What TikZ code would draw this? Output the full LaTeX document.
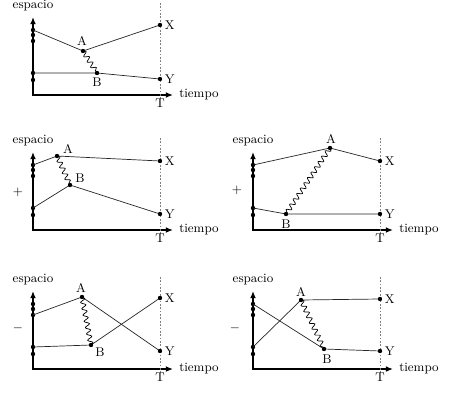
\documentclass[tikz,border=0pt]{standalone}
\usepackage{tikz}
\usetikzlibrary{arrows.meta, decorations.pathmorphing}

\begin{document}
\begin{tikzpicture}[x=0.25mm, y=0.25mm, font=\small,
    axis/.style={line width=1.1pt, {Latex[length=1.8mm,width=1.5mm]}-{Latex[length=1.8mm,width=1.5mm]}},
    track/.style={line width=0.5pt, black!85},
    wiggle/.style={line width=0.5pt, decorate, decoration={snake, amplitude=0.6mm, segment length=1.6mm}},
    timeT/.style={gray, line width=0.6pt, dash pattern=on 1.2pt off 1.2pt}]
    \useasboundingbox (0,0) rectangle (450,393);

    % the five space-time frames
    \foreach \ox/\oy in {33/298, 33/163, 253/163, 33/24, 253/24} {
        \begin{scope}[shift={(\ox,\oy)}]
            \draw[axis] (0,78) |- (140,0);
            \draw[timeT] (127,92) -- (127,-4);
            \foreach \y in {65, 60, 54, 22, 15}
                \fill (0,\y) circle(2.2);
            \node (esp) at (0,89) {espacio};
            \node[right, inner sep=1.5mm] (tmp) at (140,0) {tiempo};
            \node (tT) at (127,-8) {T};
        \end{scope}
    }

    % top
    \begin{scope}[shift={(33,298)}]
        \coordinate (a1) at (0,65);
        \coordinate (b1) at (0,22);
        \coordinate (A1) at (50,44);
        \coordinate (B1) at (64,22);
        \coordinate (X1) at (127,70);
        \coordinate (Y1) at (127,16);
        \draw[track] (a1) -- (A1) -- (X1);
        \draw[track] (b1) -- (B1) -- (Y1);
        \draw[wiggle] (A1) -- (B1);
        \foreach \p in {A1, B1, X1, Y1}
            \fill (\p) circle(2.2);
        \node (lA1) at (49,54) {A};
        \node (lB1) at (64,13) {B};
        \node[right] (lX1) at (X1) {X};
        \node[right] (lY1) at (Y1) {Y};
    \end{scope}

    % middle left
    \begin{scope}[shift={(33,163)}]
        \coordinate (a2) at (0,65);
        \coordinate (b2) at (0,22);
        \coordinate (A2) at (24,74);
        \coordinate (B2) at (37,45);
        \coordinate (X2) at (127,69);
        \coordinate (Y2) at (127,16);
        \draw[track] (a2) -- (A2) -- (X2);
        \draw[track] (b2) -- (B2) -- (Y2);
        \draw[wiggle] (A2) -- (B2);
        \foreach \p in {A2, B2, X2, Y2}
            \fill (\p) circle(2.2);
        \node (lA2) at (35,81) {A};
        \node (lB2) at (47,52) {B};
        \node[right] (lX2) at (X2) {X};
        \node[right] (lY2) at (Y2) {Y};
        \node (s2) at (-15,38) {+};
    \end{scope}

    % middle right
    \begin{scope}[shift={(253,163)}]
        \coordinate (a3) at (0,65);
        \coordinate (b3) at (0,22);
        \coordinate (A3) at (77,82);
        \coordinate (B3) at (33,16);
        \coordinate (X3) at (127,69);
        \coordinate (Y3) at (127,16);
        \draw[track] (a3) -- (A3) -- (X3);
        \draw[track] (b3) -- (B3) -- (Y3);
        \draw[wiggle] (A3) -- (B3);
        \foreach \p in {A3, B3, X3, Y3}
            \fill (\p) circle(2.2);
        \node (lA3) at (78,91) {A};
        \node (lB3) at (33,6) {B};
        \node[right] (lX3) at (X3) {X};
        \node[right] (lY3) at (Y3) {Y};
        \node (s3) at (-16,40) {+};
    \end{scope}

    % bottom left
    \begin{scope}[shift={(33,24)}]
        \coordinate (a4) at (0,54);
        \coordinate (b4) at (0,22);
        \coordinate (A4) at (49,72);
        \coordinate (B4) at (58,24);
        \coordinate (X4) at (127,71);
        \coordinate (Y4) at (127,18);
        \draw[track] (a4) -- (A4) -- (Y4);
        \draw[track] (b4) -- (B4) -- (X4);
        \draw[wiggle] (A4) -- (B4);
        \foreach \p in {A4, B4, X4, Y4}
            \fill (\p) circle(2.2);
        \node (lA4) at (48,81) {A};
        \node (lB4) at (67,17) {B};
        \node[right] (lX4) at (X4) {X};
        \node[right] (lY4) at (Y4) {Y};
        \node (s4) at (-15,41) {$-$};
    \end{scope}

    % bottom right
    \begin{scope}[shift={(253,24)}]
        \coordinate (a5) at (0,65);
        \coordinate (b5) at (0,22);
        \coordinate (A5) at (48,69);
        \coordinate (B5) at (71,20);
        \coordinate (X5) at (127,70);
        \coordinate (Y5) at (127,18);
        \draw[track] (a5) -- (B5) -- (Y5);
        \draw[track] (b5) -- (A5) -- (X5);
        \draw[wiggle] (A5) -- (B5);
        \foreach \p in {A5, B5, X5, Y5}
            \fill (\p) circle(2.2);
        \node (lA5) at (48,77) {A};
        \node (lB5) at (74,10) {B};
        \node[right] (lX5) at (X5) {X};
        \node[right] (lY5) at (Y5) {Y};
        \node (s5) at (-18,41) {$-$};
    \end{scope}
\end{tikzpicture}
\end{document}
